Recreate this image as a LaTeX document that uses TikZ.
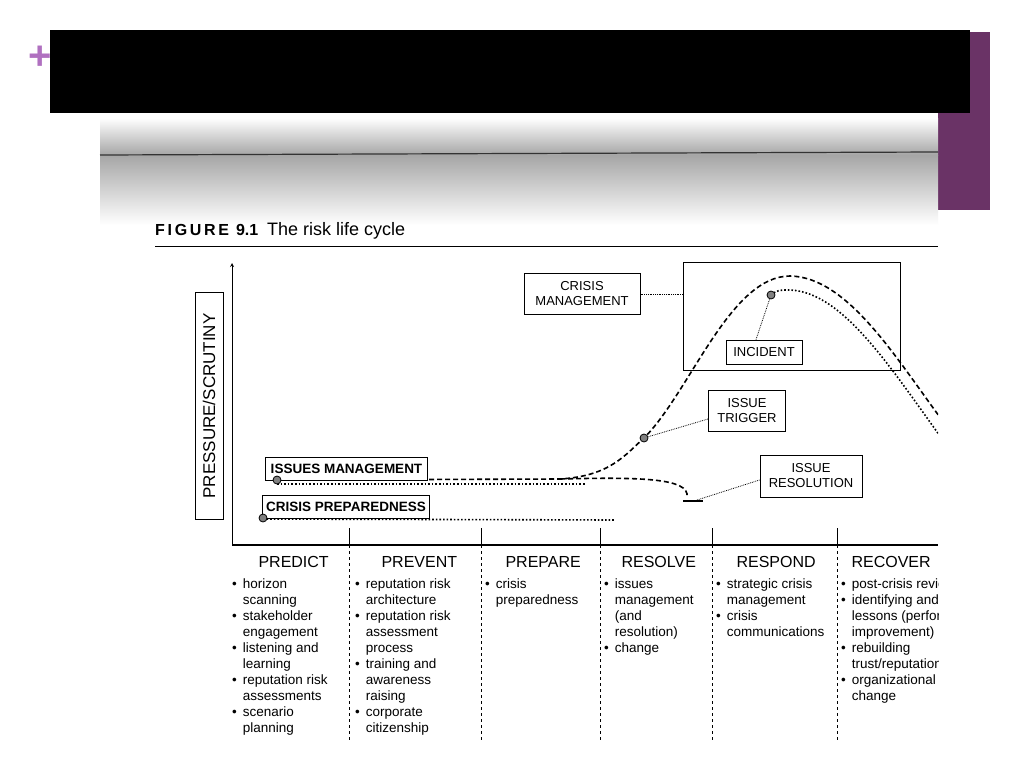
\documentclass[tikz,border=0pt]{standalone}
\usepackage{fontspec}
\setmainfont{Liberation Sans}
\usetikzlibrary{positioning}
\definecolor{plum}{HTML}{6A3366}
\definecolor{lilac}{HTML}{B070C0}
\tikzset{
  lbl/.style={draw, line width=1pt, fill=white, align=center, font=\fontsize{13}{15}\selectfont, inner sep=0pt},
  tag/.style={draw, line width=1pt, fill=white, font=\bfseries\fontsize{13.5}{14}\selectfont, inner sep=0pt, anchor=north west},
  dot/.style={circle, draw, line width=0.8pt, fill=gray, inner sep=0pt, minimum size=8pt},
  lead/.style={densely dotted, line width=0.8pt},
  heavy/.style={line width=1.6pt, dash pattern=on 5pt off 3pt},
  dots/.style={line width=1.6pt, dash pattern=on 1.6pt off 2pt},
  head/.style={anchor=base west, font=\fontsize{16}{18}\selectfont},
  col/.style={anchor=north west, font=\fontsize{13.5}{16}\selectfont, inner sep=0pt}
}
\newcommand{\bul}{\textbullet}
\begin{document}
\begin{tikzpicture}[x=1pt, y=-1pt]
  \useasboundingbox (0,0) rectangle (1024,768);
  \fill[white] (0,0) rectangle (1024,768);

  % slide frame
  \fill[plum] (938,32) rectangle (990,210);
  \shade[top color=white, bottom color=gray!70] (100,118) rectangle (938,155);
  \shade[top color=gray!70, bottom color=white] (100,155) rectangle (938,225);
  \draw[very thick, black!80] (100,155) -- (938,152);
  \fill[black] (50,30) rectangle (970,113);
  \node[text=lilac, font=\bfseries\fontsize{40}{40}\selectfont] (plus) at (40,58) {+};

  % caption
  \node[anchor=base west, inner sep=0pt] (cap) at (155,235)
    {\bfseries\fontsize{16}{17}\selectfont F\,I\,G\,U\,R\,E\,\ 9.1\ \ \mdseries\fontsize{18}{17}\selectfont The risk life cycle};
  \draw[line width=1pt] (155,246) -- (938,246);

  % axes
  \coordinate (orig) at (232,545);
  \coordinate (ytop) at (232,263);
  \coordinate (xend) at (938,545);
  \draw[-stealth, line width=0.8pt] (orig) -- (ytop);
  \draw[line width=1.2pt] (orig) -- (xend);
  \node[draw, line width=1pt, minimum width=28pt, minimum height=227pt, inner sep=0pt] (ylab) at (209,406) {};
  \node[rotate=90, font=\fontsize{17}{18}\selectfont] (ytext) at (ylab.center) {PRESSURE/SCRUTINY};

  % phase dividers
  \foreach \x in {349,481,600,712,837}{
    \draw[line width=0.8pt] (\x,528) -- (\x,545);
    \draw[dashed, line width=0.8pt] (\x,545) -- (\x,740);
  }

  \begin{scope}
    \clip (0,0) rectangle (938,768);

    % curves
    \draw[heavy] (277,480) -- (560,479) .. controls (610,476) and (625,455) .. (644,438)
      .. controls (690,392) and (730,276) .. (790,276) .. controls (850,277) and (900,365) .. (948,428);
    \draw[dots] (277,484) -- (585,484);
    \draw[dots] (771,295) .. controls (778,290) .. (790,290) .. controls (845,292) and (895,375) .. (948,447);
    \draw[heavy] (560,479) .. controls (640,477) and (690,478) .. (687,497);
    \draw[line width=1.6pt] (683,501) -- (703,501);
    \draw[dots] (263,519) -- (615,520);

    % boxes
    \node[lbl, minimum width=116pt, minimum height=41pt] (cm) at (582,294) {CRISIS\\MANAGEMENT};
    \node[draw, line width=1pt, minimum width=217pt, minimum height=108pt, inner sep=0pt] (zone) at (791.5,316) {};
    \node[lbl, minimum width=76pt, minimum height=24pt] (inc) at (764,352) {INCIDENT};
    \node[lbl, minimum width=77pt, minimum height=41pt] (trig) at (747,411) {ISSUE\\TRIGGER};
    \node[lbl, minimum width=102pt, minimum height=42pt] (res) at (811,476) {ISSUE\\RESOLUTION};
    \node[tag, minimum width=162pt, minimum height=23pt] (im) at (265,457) {ISSUES MANAGEMENT};
    \node[tag, minimum width=167pt, minimum height=23pt] (cp) at (262,495) {CRISIS PREPAREDNESS};

    % markers
    \node[dot] (imdot) at (277,480) {};
    \node[dot] (cpdot) at (263,518) {};
    \node[dot] (trigdot) at (644,438) {};
    \node[dot] (incdot) at (771,295) {};
    \coordinate (resbar) at (697,500);

    \draw[lead] (cm.east) -- (zone.west |- cm.east);
    \draw[lead] (inc.north) ++(-8,0) -- (incdot);
    \draw[lead] (trig.west) ++(0,8) -- (trigdot);
    \draw[lead] (res.west) ++(0,4) -- (resbar);

    % phases
    \node[head] (h1) at (255,567) {PREDICT};
    \node[head] (h2) at (378,567) {PREVENT};
    \node[head] (h3) at (502,567) {PREPARE};
    \node[head] (h4) at (618,567) {RESOLVE};
    \node[head] (h5) at (733,567) {RESPOND};
    \node[head] (h6) at (848,567) {RECOVER};

    \node[col] (c1) at (232,577) {\begin{tabular}{@{}l@{\ \,}l@{}}
      \bul & horizon\\ & scanning\\ \bul & stakeholder\\ & engagement\\
      \bul & listening and\\ & learning\\ \bul & reputation risk\\ & assessments\\
      \bul & scenario\\ & planning\end{tabular}};
    \node[col] (c2) at (355,577) {\begin{tabular}{@{}l@{\ \,}l@{}}
      \bul & reputation risk\\ & architecture\\ \bul & reputation risk\\ & assessment\\
      & process\\ \bul & training and\\ & awareness\\ & raising\\
      \bul & corporate\\ & citizenship\end{tabular}};
    \node[col] (c3) at (485,577) {\begin{tabular}{@{}l@{\ \,}l@{}}
      \bul & crisis\\ & preparedness\end{tabular}};
    \node[col] (c4) at (604,577) {\begin{tabular}{@{}l@{\ \,}l@{}}
      \bul & issues\\ & management\\ & (and\\ & resolution)\\ \bul & change\end{tabular}};
    \node[col] (c5) at (716,577) {\begin{tabular}{@{}l@{\ \,}l@{}}
      \bul & strategic crisis\\ & management\\ \bul & crisis\\ & communications\end{tabular}};
    \node[col] (c6) at (841,577) {\begin{tabular}{@{}l@{\ \,}l@{}}
      \bul & post-crisis review\\ \bul & identifying and\\ & lessons (performance\\ & improvement)\\
      \bul & rebuilding\\ & trust/reputation\\ \bul & organizational\\ & change\end{tabular}};
  \end{scope}
\end{tikzpicture}
\end{document}
